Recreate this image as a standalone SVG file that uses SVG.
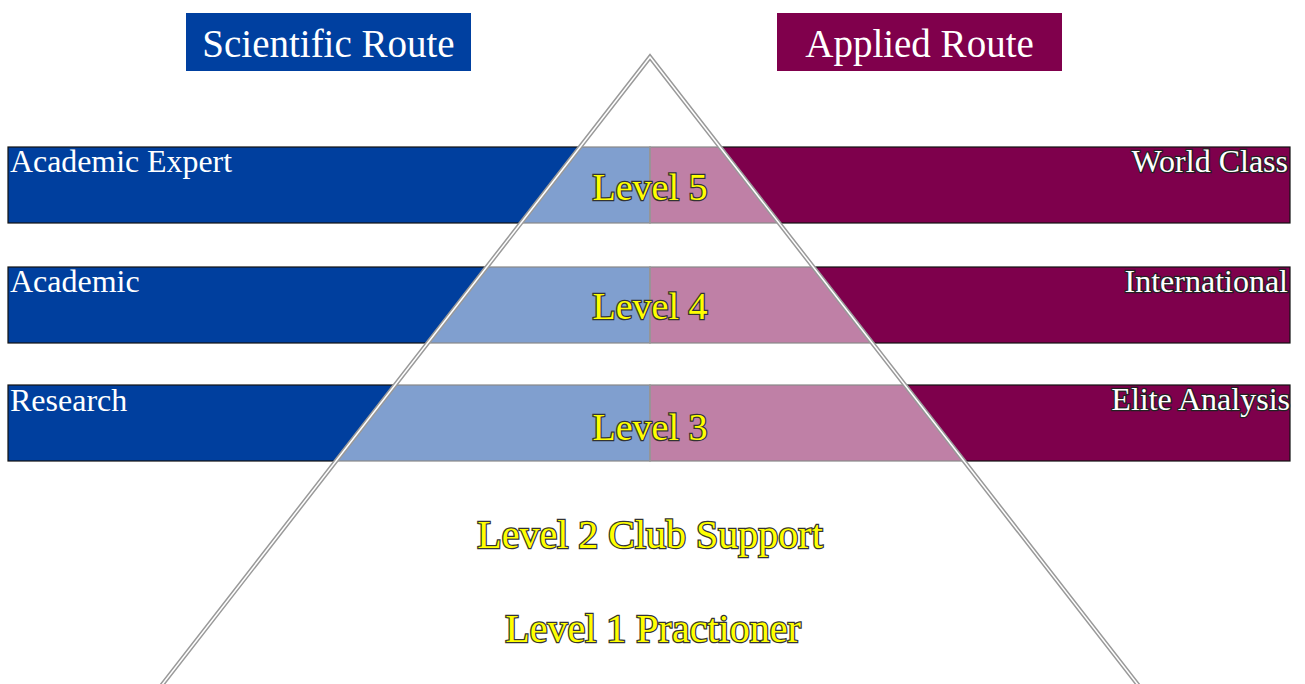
<svg xmlns="http://www.w3.org/2000/svg" width="1305" height="684" viewBox="0 0 1305 684">
<style>
.hdr{font-family:"Liberation Serif","DejaVu Serif",serif;font-size:39px;fill:#fff;text-anchor:middle}
.lab{font-family:"Liberation Serif","DejaVu Serif",serif;font-size:32px;fill:#fff}
.rlab{font-family:"Liberation Serif","DejaVu Serif",serif;font-size:32px;fill:#fff;text-anchor:end;stroke:#222;stroke-width:2.5px;paint-order:stroke}
.lvl{font-family:"Liberation Serif","DejaVu Serif",serif;font-size:38px;fill:#ffff00;text-anchor:middle;stroke:#333;stroke-width:2.5px;paint-order:stroke}
.big{font-size:40px}
.blue{fill:#003f9e;stroke:#111;stroke-width:1.2}
.purp{fill:#7e004c;stroke:#111;stroke-width:1.2}
</style>
<rect width="1305" height="684" fill="#fff"/>
<g id="header-scientific">
<rect x="186" y="13" width="285" height="58" fill="#0040a0"/>
<text class="hdr" x="328.5" y="57">Scientific Route</text>
</g>
<g id="header-applied">
<rect x="777" y="13" width="285" height="58" fill="#80004c"/>
<text class="hdr" x="919.5" y="57">Applied Route</text>
</g>
<g id="bar-level5">
<rect class="blue" x="8" y="147" width="642" height="76"/>
<rect class="purp" x="650" y="147" width="640" height="76"/>
</g>
<g id="bar-level4">
<rect class="blue" x="8" y="267" width="642" height="76"/>
<rect class="purp" x="650" y="267" width="640" height="76"/>
</g>
<g id="bar-level3">
<rect class="blue" x="8" y="385" width="642" height="76"/>
<rect class="purp" x="650" y="385" width="640" height="76"/>
</g>
<g id="pyramid">
<polygon points="650,57 158,690 1142,690" fill="#fff" fill-opacity="0.5" stroke="#9a9a9a" stroke-width="4.5" stroke-linejoin="miter"/>
<polygon points="650,57 158,690 1142,690" fill="none" stroke="#fff" stroke-width="1.5"/>
<line x1="650" y1="147" x2="650" y2="223" stroke="#999" stroke-width="1.5"/>
<line x1="650" y1="267" x2="650" y2="343" stroke="#999" stroke-width="1.5"/>
<line x1="650" y1="385" x2="650" y2="461" stroke="#999" stroke-width="1.5"/>
</g>
<g id="labels-left">
<text class="lab" x="10" y="172" textLength="222" lengthAdjust="spacingAndGlyphs">Academic Expert</text>
<text class="lab" x="10" y="292">Academic</text>
<text class="lab" x="10" y="411">Research</text>
</g>
<g id="labels-right">
<text class="rlab" x="1288" y="172">World Class</text>
<text class="rlab" x="1288" y="292">International</text>
<text class="rlab" x="1290" y="410">Elite Analysis</text>
</g>
<g id="levels">
<text class="lvl" x="650" y="200">Level 5</text>
<text class="lvl" x="650" y="319">Level 4</text>
<text class="lvl" x="650" y="440">Level 3</text>
<text class="lvl big" x="650" y="548">Level 2 Club Support</text>
<text class="lvl big" x="653" y="642">Level 1 Practioner</text>
</g>
</svg>
